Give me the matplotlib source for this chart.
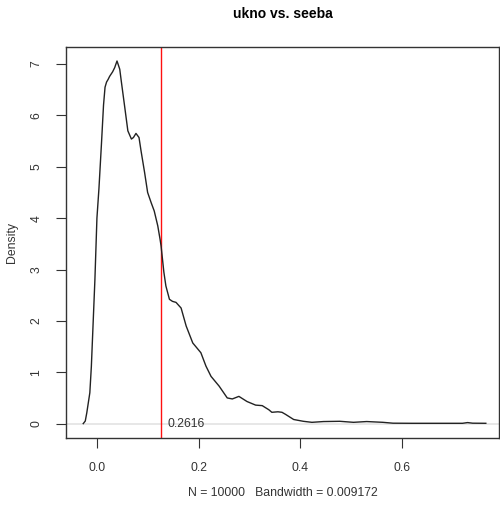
import matplotlib
matplotlib.use("Agg")
import matplotlib.pyplot as plt

plt.rcParams['font.family'] = ['Liberation Sans', 'DejaVu Sans']

# density curve
dens_x = [-0.028, -0.024, -0.021, -0.015, -0.012, -0.005, -0.001, 0.003, 0.008,
          0.012, 0.015, 0.018, 0.021, 0.024, 0.030, 0.034, 0.0386, 0.044, 0.047,
          0.054, 0.060, 0.067, 0.071, 0.076, 0.082, 0.086, 0.093, 0.099, 0.106,
          0.112, 0.119, 0.1235, 0.1255, 0.131, 0.135, 0.142, 0.148, 0.155, 0.165,
          0.175, 0.188, 0.204, 0.214, 0.224, 0.240, 0.256, 0.266, 0.279, 0.295,
          0.312, 0.325, 0.338, 0.344, 0.356, 0.364, 0.371, 0.387, 0.406, 0.423,
          0.446, 0.478, 0.505, 0.531, 0.563, 0.583, 0.62, 0.68, 0.72, 0.73, 0.74,
          0.766]
dens_y = [0.0, 0.05, 0.21, 0.6, 1.11, 2.8, 4.0, 4.58, 5.46,
          6.2, 6.55, 6.65, 6.7, 6.76, 6.85, 6.93, 7.06, 6.9, 6.67,
          6.15, 5.7, 5.54, 5.57, 5.65, 5.57, 5.31, 4.89, 4.5, 4.3,
          4.14, 3.85, 3.59, 3.46, 2.95, 2.68, 2.42, 2.38, 2.36, 2.25,
          1.90, 1.57, 1.38, 1.12, 0.92, 0.73, 0.50, 0.48, 0.53, 0.43,
          0.36, 0.35, 0.27, 0.22, 0.23, 0.22, 0.18, 0.08, 0.045, 0.025,
          0.04, 0.045, 0.025, 0.04, 0.025, 0.008, 0.006, 0.006, 0.006, 0.02,
          0.008, 0.006]

cut_x = 0.1255
cut_label = "0.2616"
title = "ukno vs. seeba"
xlabel = "N = 10000   Bandwidth = 0.009172"
xticks = [0.0, 0.2, 0.4, 0.6]
yticks = [0, 1, 2, 3, 4, 5, 6, 7]

fig = plt.figure(figsize=(5.0, 5.05), dpi=100)
ax = fig.add_axes([0.132, 0.1327, 0.866, 0.774])

ax.axhline(0, color='#e3e3e3', lw=1.2, zorder=1)
ax.plot(dens_x, dens_y, color='#222222', lw=1.0, zorder=3)
ax.axvline(cut_x, color='#ff1010', lw=1.0, zorder=2)
ax.text(cut_x + 0.012, 0, cut_label, ha='left', va='center', fontsize=8.8,
        color='#333333')

ax.set_xlim(-0.062, 0.792)
ax.set_ylim(-0.28, 7.33)
ax.set_xticks(xticks)
ax.set_xticklabels(["%.1f" % v for v in xticks])
ax.set_yticks(yticks)
ax.set_yticklabels([str(v) for v in yticks], rotation=90, va='center')
ax.tick_params(direction='out', length=7, width=0.8, labelsize=8.8, pad=10,
               colors='#333333')
ax.tick_params(axis='x', pad=10)
for s in ax.spines.values():
    s.set_linewidth(1.0)
    s.set_color('#333333')

ax.set_title(title, fontsize=10, fontweight='bold', pad=21)
ax.set_xlabel(xlabel, fontsize=8.8, labelpad=10, color='#333333')
ax.set_ylabel("Density", fontsize=8.8, labelpad=9, color='#333333')

plt.savefig('out.png', dpi=100)
